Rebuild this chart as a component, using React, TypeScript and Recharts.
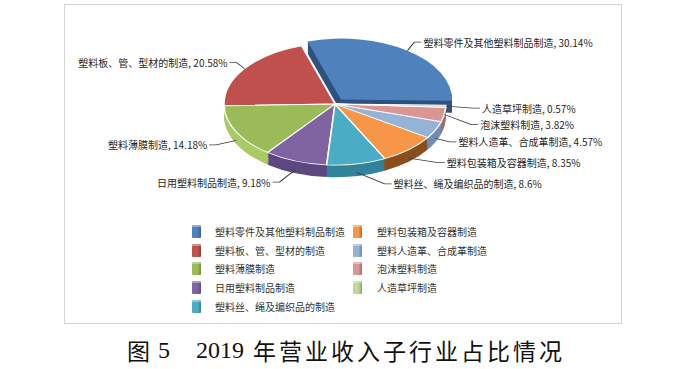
import React from 'react';
import { PieChart, Pie, Cell } from 'recharts';

// 2019 plastics sub-industry revenue shares (%)
const names = [
  '塑料零件及其他塑料制品制造',
  '塑料板、管、型材的制造',
  '塑料薄膜制造',
  '日用塑料制品制造',
  '塑料丝、绳及编织品的制造',
  '塑料包装箱及容器制造',
  '塑料人造革、合成革制造',
  '泡沫塑料制造',
  '人造草坪制造',
];
const shares = [30.14, 20.58, 14.18, 9.18, 8.6, 8.35, 4.57, 3.82, 0.57];

const COLORS = ['#4F81BD', '#C0504D', '#9BBB59', '#8064A2', '#4BACC6', '#F79646', '#95B3D7', '#DA9694', '#C3D69B'];
const SIDE = ['#2F5280', '#8A3432', '#A9CB66', '#5E4880', '#31839A', '#8A4E1E', '#6F8DB5', '#A86A68', '#98AD6C'];

// label nudges in page px, relative to the slice edge
const LABEL_NUDGE: [number, number][] = [
  [22, -13], [-17, -6], [-29, 13], [-25, 21], [37, 20], [38, 13], [23, 12], [36, 10], [36, 2],
];

const rows = names.map((name, i) => ({ name, value: shares[i] }));

const K = 0.55; // vertical squash for the tilted pie
const CX = 335;
const CY = 104 / K;
const R = 111;
const START = -1;
const DEPTH = 22;
const EX = 6;
const EY = -8;
const steps = Array.from({ length: 11 }, (_, i) => DEPTH - i * 2);

const renderLabel = (p: any) => {
  const { cx, cy, midAngle, outerRadius, index } = p;
  const rad = (midAngle * Math.PI) / 180;
  let ex = cx + outerRadius * Math.cos(rad);
  let ey = cy - outerRadius * Math.sin(rad);
  if (index === 0) { ex += EX; ey += EY; }
  if (Math.sin(rad) < -0.3) ey += DEPTH * 0.7;
  const [dx, dy] = LABEL_NUDGE[index];
  const left = dx < 0;
  const tx = cx + outerRadius * Math.cos(rad) + dx;
  const ty = cy - outerRadius * Math.sin(rad) + dy / K;
  const s = left ? 1 : -1;
  return (
    <g key={`lab-${index}`}>
      <polyline
        points={`${ex},${ey} ${tx + s * 9},${ty} ${tx + s * 2},${ty}`}
        fill="none"
        stroke="#404040"
        strokeWidth={1.3}
      />
      <text
        transform={`translate(${tx},${ty}) scale(1,${1 / K})`}
        x={0}
        y={0}
        textAnchor={left ? 'end' : 'start'}
        dominantBaseline="central"
        fontSize={10}
        fontFamily="'Noto Sans CJK SC', sans-serif"
        fill="#262626"
      >
        {`${names[index]}, ${shares[index]}%`}
      </text>
    </g>
  );
};

function Swatch({ color }: { color: string }) {
  return (
    <div
      style={{
        width: 9,
        height: 13,
        borderRadius: 1,
        background: `linear-gradient(to right, ${color} 0%, ${color} 60%, rgba(0,0,0,0.25) 100%), ${color}`,
        boxShadow: 'inset 0 2px 0 rgba(255,255,255,0.35)',
      }}
    />
  );
}

export default function App() {
  return (
    <div style={{ position: 'absolute', left: 0, top: 0, width: 700, height: 369, background: '#fff', overflow: 'hidden' }}>
      <div style={{ position: 'absolute', left: 64, top: 4, width: 556, height: 318, border: '1px solid #d4d4d4' }} />

      <div style={{ position: 'absolute', left: 0, top: 0, width: 700, height: 400, transform: `scaleY(${K})`, transformOrigin: '0 0' }}>
        <PieChart width={700} height={400} margin={{ top: 0, right: 0, bottom: 0, left: 0 }}>
          {steps.map((d) => (
            <Pie key={`side-${d}`} data={rows} dataKey="value" nameKey="name" cx={CX} cy={CY + d} outerRadius={R}
              startAngle={START} endAngle={START + 360} isAnimationActive={false} labelLine={false}>
              {rows.map((_, i) => (
                <Cell key={`sc-${i}`} fill={i === 0 ? 'none' : SIDE[i]} stroke="none" />
              ))}
            </Pie>
          ))}
          {steps.map((d) => (
            <Pie key={`bside-${d}`} data={rows} dataKey="value" nameKey="name" cx={CX + EX} cy={CY + EY + d} outerRadius={R}
              startAngle={START} endAngle={START + 360} isAnimationActive={false} labelLine={false}>
              {rows.map((_, i) => (
                <Cell key={`bc-${i}`} fill={i === 0 ? SIDE[0] : 'none'} stroke="none" />
              ))}
            </Pie>
          ))}
          <Pie data={rows} dataKey="value" nameKey="name" cx={CX} cy={CY} outerRadius={R}
            startAngle={START} endAngle={START + 360} isAnimationActive={false}
            label={renderLabel} labelLine={false}>
            {rows.map((_, i) => (
              <Cell key={`c-${i}`} fill={i === 0 ? 'none' : COLORS[i]} stroke={i === 0 ? 'none' : '#fff'} strokeWidth={1.5} />
            ))}
          </Pie>
          <Pie data={rows} dataKey="value" nameKey="name" cx={CX + EX} cy={CY + EY} outerRadius={R}
            startAngle={START} endAngle={START + 360} isAnimationActive={false} labelLine={false}>
            {rows.map((_, i) => (
              <Cell key={`t-${i}`} fill={i === 0 ? COLORS[0] : 'none'} stroke="none" />
            ))}
          </Pie>
        </PieChart>
      </div>

      {names.map((n, i) => {
        const col = i < 5 ? 0 : 1;
        const row = i < 5 ? i : i - 5;
        return (
          <div key={n} style={{ position: 'absolute', left: col === 0 ? 192 : 353, top: 225 + row * 18.7, height: 13, display: 'flex', alignItems: 'center' }}>
            <Swatch color={COLORS[i]} />
            <span style={{ marginLeft: col === 0 ? 14 : 15, fontSize: 10, fontFamily: "'Noto Sans CJK SC', sans-serif", color: '#333', whiteSpace: 'nowrap' }}>{n}</span>
          </div>
        );
      })}

      <div style={{ position: 'absolute', left: 127, top: 334, height: 32, display: 'flex', alignItems: 'center', whiteSpace: 'nowrap', color: '#111' }}>
        <span style={{ fontFamily: "'Noto Sans CJK SC'", fontSize: 23 }}>图</span>
        <span style={{ fontFamily: "'Liberation Serif'", fontSize: 24, marginLeft: 8 }}>5</span>
        <span style={{ fontFamily: "'Liberation Serif'", fontSize: 24, marginLeft: 26 }}>2019</span>
        <span style={{ fontFamily: "'Noto Sans CJK SC'", fontSize: 23, marginLeft: 9, letterSpacing: 3 }}>年营业收入子行业占比情况</span>
      </div>
    </div>
  );
}
